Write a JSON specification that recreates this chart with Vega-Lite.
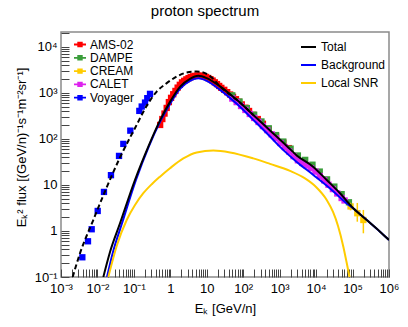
{
  "$schema": "https://vega.github.io/schema/vega-lite/v6.json",
  "width": 328,
  "height": 245,
  "autosize": {"type": "none"},
  "padding": {"left": 61, "top": 32, "right": 19, "bottom": 50},
  "title": {"text": "proton spectrum", "font": "Liberation Sans", "fontSize": 15, "fontWeight": "normal", "color": "black", "anchor": "middle", "baseline": "alphabetic", "offset": 6, "dx": -20, "dy": 10},
  "config": {
    "font": "Liberation Sans",
    "view": {"stroke": "#8a8a8a", "strokeWidth": 1.5},
    "axis": {"grid": false, "domain": false, "tickColor": "#444", "tickWidth": 1, "labelColor": "black", "titleColor": "black", "labelFont": "Liberation Sans", "titleFont": "Liberation Sans", "labelFontSize": 13, "titleFontSize": 13, "titleFontWeight": "normal", "labelOverlap": false, "labelFlush": false},
    "legend": {"labelFont": "Liberation Sans", "labelFontSize": 12, "labelColor": "black"}
  },
  "datasets": {
    "points": [
      {"exp": "Voyager", "E": 0.00385, "F": 0.268},
      {"exp": "Voyager", "E": 0.0055, "F": 0.597},
      {"exp": "Voyager", "E": 0.00695, "F": 1.09},
      {"exp": "Voyager", "E": 0.01016, "F": 2.72},
      {"exp": "Voyager", "E": 0.0151, "F": 7.05},
      {"exp": "Voyager", "E": 0.0235, "F": 16.3},
      {"exp": "Voyager", "E": 0.0391, "F": 42.7},
      {"exp": "Voyager", "E": 0.0513, "F": 77.9},
      {"exp": "Voyager", "E": 0.0798, "F": 151},
      {"exp": "Voyager", "E": 0.141, "F": 406},
      {"exp": "Voyager", "E": 0.164, "F": 505},
      {"exp": "Voyager", "E": 0.202, "F": 615},
      {"exp": "Voyager", "E": 0.233, "F": 767},
      {"exp": "Voyager", "E": 0.277, "F": 951},
      {"exp": "AMS-02", "E": 0.525, "F": 201},
      {"exp": "AMS-02", "E": 0.603, "F": 270},
      {"exp": "AMS-02", "E": 0.692, "F": 355},
      {"exp": "AMS-02", "E": 0.794, "F": 471},
      {"exp": "AMS-02", "E": 0.912, "F": 630},
      {"exp": "AMS-02", "E": 1.047, "F": 780},
      {"exp": "AMS-02", "E": 1.202, "F": 933},
      {"exp": "AMS-02", "E": 1.38, "F": 1102},
      {"exp": "AMS-02", "E": 1.585, "F": 1300},
      {"exp": "AMS-02", "E": 1.82, "F": 1496},
      {"exp": "AMS-02", "E": 2.09, "F": 1690},
      {"exp": "AMS-02", "E": 2.4, "F": 1824},
      {"exp": "AMS-02", "E": 2.754, "F": 1963},
      {"exp": "AMS-02", "E": 3.16, "F": 2084},
      {"exp": "AMS-02", "E": 3.63, "F": 2203},
      {"exp": "AMS-02", "E": 4.17, "F": 2286},
      {"exp": "AMS-02", "E": 4.79, "F": 2339},
      {"exp": "AMS-02", "E": 5.5, "F": 2371},
      {"exp": "AMS-02", "E": 6.31, "F": 2360},
      {"exp": "AMS-02", "E": 7.24, "F": 2344},
      {"exp": "AMS-02", "E": 8.32, "F": 2275},
      {"exp": "AMS-02", "E": 9.55, "F": 2213},
      {"exp": "AMS-02", "E": 10.96, "F": 2104},
      {"exp": "AMS-02", "E": 12.6, "F": 1986},
      {"exp": "AMS-02", "E": 14.45, "F": 1849},
      {"exp": "AMS-02", "E": 16.6, "F": 1694},
      {"exp": "AMS-02", "E": 19.05, "F": 1552},
      {"exp": "AMS-02", "E": 21.9, "F": 1413},
      {"exp": "AMS-02", "E": 25.1, "F": 1285},
      {"exp": "AMS-02", "E": 30.2, "F": 1164},
      {"exp": "AMS-02", "E": 36.3, "F": 1035},
      {"exp": "AMS-02", "E": 43.7, "F": 920},
      {"exp": "AMS-02", "E": 52.5, "F": 818},
      {"exp": "AMS-02", "E": 63.1, "F": 728},
      {"exp": "AMS-02", "E": 75.9, "F": 640},
      {"exp": "AMS-02", "E": 91.2, "F": 561},
      {"exp": "AMS-02", "E": 114.8, "F": 475},
      {"exp": "AMS-02", "E": 144.5, "F": 404},
      {"exp": "AMS-02", "E": 190.5, "F": 333},
      {"exp": "AMS-02", "E": 251, "F": 270},
      {"exp": "AMS-02", "E": 347, "F": 213},
      {"exp": "AMS-02", "E": 501, "F": 162},
      {"exp": "AMS-02", "E": 794, "F": 116},
      {"exp": "AMS-02", "E": 1259, "F": 82.6},
      {"exp": "AMS-02", "E": 1778, "F": 63.1},
      {"exp": "CREAM", "E": 88100, "F": 3.41},
      {"exp": "CREAM", "E": 135000, "F": 2.43},
      {"exp": "CREAM", "E": 198000, "F": 1.73},
      {"exp": "DAMPE", "E": 50.1, "F": 884},
      {"exp": "DAMPE", "E": 79.4, "F": 648},
      {"exp": "DAMPE", "E": 125.9, "F": 467},
      {"exp": "DAMPE", "E": 199.5, "F": 335},
      {"exp": "DAMPE", "E": 316.2, "F": 239},
      {"exp": "DAMPE", "E": 501.2, "F": 170},
      {"exp": "DAMPE", "E": 794.3, "F": 121},
      {"exp": "DAMPE", "E": 1259, "F": 87.5},
      {"exp": "DAMPE", "E": 1995, "F": 61.4},
      {"exp": "DAMPE", "E": 3162, "F": 43.6},
      {"exp": "DAMPE", "E": 5012, "F": 35.0},
      {"exp": "DAMPE", "E": 7943, "F": 27.5},
      {"exp": "DAMPE", "E": 12590, "F": 19.5},
      {"exp": "DAMPE", "E": 19950, "F": 13.2},
      {"exp": "DAMPE", "E": 31620, "F": 9.2},
      {"exp": "DAMPE", "E": 50120, "F": 6.31},
      {"exp": "DAMPE", "E": 79430, "F": 4.2},
      {"exp": "CALET", "E": 50.1, "F": 752},
      {"exp": "CALET", "E": 66.1, "F": 630},
      {"exp": "CALET", "E": 87.1, "F": 518},
      {"exp": "CALET", "E": 114.8, "F": 425},
      {"exp": "CALET", "E": 151.4, "F": 348},
      {"exp": "CALET", "E": 199.5, "F": 285},
      {"exp": "CALET", "E": 263, "F": 233},
      {"exp": "CALET", "E": 346.7, "F": 190},
      {"exp": "CALET", "E": 457.1, "F": 155},
      {"exp": "CALET", "E": 602.6, "F": 126},
      {"exp": "CALET", "E": 794.3, "F": 103},
      {"exp": "CALET", "E": 1047, "F": 81.5},
      {"exp": "CALET", "E": 1380, "F": 66.5},
      {"exp": "CALET", "E": 1820, "F": 53.3},
      {"exp": "CALET", "E": 2399, "F": 42.2},
      {"exp": "CALET", "E": 3162, "F": 34.3},
      {"exp": "CALET", "E": 4169, "F": 30.1},
      {"exp": "CALET", "E": 5495, "F": 26.4},
      {"exp": "CALET", "E": 7244, "F": 23.1},
      {"exp": "CALET", "E": 9550, "F": 19.5},
      {"exp": "CALET", "E": 12590, "F": 15.6},
      {"exp": "CALET", "E": 16600, "F": 12.6},
      {"exp": "CALET", "E": 21880, "F": 10.1},
      {"exp": "CALET", "E": 28840, "F": 8.13},
      {"exp": "CALET", "E": 38020, "F": 6.53},
      {"exp": "CALET", "E": 50120, "F": 5.2},
      {"exp": "CALET", "E": 60260, "F": 4.6}
    ],
    "cream": [
      {"E": 88100, "F": 3.41, "Elo": 80000, "Ehi": 97000, "Flo": 2.8, "Fhi": 4.1},
      {"E": 135000, "F": 2.43, "Elo": 121000, "Ehi": 151000, "Flo": 1.59, "Fhi": 4.06},
      {"E": 198000, "F": 1.73, "Elo": 177000, "Ehi": 222000, "Flo": 0.89, "Fhi": 2.86}
    ],
    "lis": [
      {"E": 0.00209, "F": 0.1},
      {"E": 0.00332, "F": 0.327},
      {"E": 0.00769, "F": 1.73},
      {"E": 0.0179, "F": 8.83},
      {"E": 0.0416, "F": 39.6},
      {"E": 0.107, "F": 171},
      {"E": 0.233, "F": 548},
      {"E": 0.423, "F": 1067},
      {"E": 0.796, "F": 1625},
      {"E": 1.5, "F": 2259},
      {"E": 2.82, "F": 2761},
      {"E": 5.3, "F": 2904},
      {"E": 8.95, "F": 2679},
      {"E": 13.9, "F": 2120},
      {"E": 23.1, "F": 1384},
      {"E": 66.4, "F": 705},
      {"E": 189, "F": 332}
    ],
    "curves": [
      {"model": "Total", "E": 0.0145, "F": 0.1},
      {"model": "Total", "E": 0.02212, "F": 0.3497},
      {"model": "Total", "E": 0.0416, "F": 1.47},
      {"model": "Total", "E": 0.107, "F": 12.8},
      {"model": "Total", "E": 0.249, "F": 68},
      {"model": "Total", "E": 0.521, "F": 252},
      {"model": "Total", "E": 0.98, "F": 637},
      {"model": "Total", "E": 1.84, "F": 1349},
      {"model": "Total", "E": 3.47, "F": 2015},
      {"model": "Total", "E": 5.86, "F": 2344},
      {"model": "Total", "E": 9.96, "F": 2089},
      {"model": "Total", "E": 23.1, "F": 1384},
      {"model": "Total", "E": 66.4, "F": 705},
      {"model": "Total", "E": 189, "F": 332},
      {"model": "Total", "E": 543, "F": 153},
      {"model": "Total", "E": 1563, "F": 70.4},
      {"model": "Total", "E": 2939, "F": 43.8},
      {"model": "Total", "E": 8395, "F": 24.6},
      {"model": "Total", "E": 19550, "F": 12.8},
      {"model": "Total", "E": 45300, "F": 6.6},
      {"model": "Total", "E": 105000, "F": 3.11},
      {"model": "Total", "E": 245000, "F": 1.73},
      {"model": "Total", "E": 568000, "F": 0.966},
      {"model": "Total", "E": 1000000, "F": 0.637},
      {"model": "Background", "E": 0.0183, "F": 0.1},
      {"model": "Background", "E": 0.02674, "F": 0.3497},
      {"model": "Background", "E": 0.0472, "F": 1.47},
      {"model": "Background", "E": 0.114, "F": 12.8},
      {"model": "Background", "E": 0.256, "F": 68},
      {"model": "Background", "E": 0.521, "F": 234},
      {"model": "Background", "E": 0.98, "F": 577},
      {"model": "Background", "E": 1.84, "F": 1222},
      {"model": "Background", "E": 3.47, "F": 1824},
      {"model": "Background", "E": 5.86, "F": 2066},
      {"model": "Background", "E": 9.96, "F": 1824},
      {"model": "Background", "E": 23.1, "F": 1162},
      {"model": "Background", "E": 66.4, "F": 577},
      {"model": "Background", "E": 189, "F": 259},
      {"model": "Background", "E": 543, "F": 113},
      {"model": "Background", "E": 1023, "F": 67},
      {"model": "Background", "E": 2939, "F": 31.6},
      {"model": "Background", "E": 8395, "F": 16.5},
      {"model": "Background", "E": 24100, "F": 8.39},
      {"model": "Background", "E": 55800, "F": 4.6},
      {"model": "Background", "E": 105000, "F": 3.08},
      {"model": "Background", "E": 245000, "F": 1.73},
      {"model": "Background", "E": 568000, "F": 0.966},
      {"model": "Background", "E": 1000000, "F": 0.637},
      {"model": "Local SNR", "E": 0.01986, "F": 0.1},
      {"model": "Local SNR", "E": 0.0344, "F": 0.496},
      {"model": "Local SNR", "E": 0.0635, "F": 1.734},
      {"model": "Local SNR", "E": 0.1073, "F": 3.674},
      {"model": "Local SNR", "E": 0.1813, "F": 6.6},
      {"model": "Local SNR", "E": 0.3143, "F": 10.51},
      {"model": "Local SNR", "E": 0.5209, "F": 15.15},
      {"model": "Local SNR", "E": 0.9799, "F": 23.07},
      {"model": "Local SNR", "E": 2.271, "F": 37.68},
      {"model": "Local SNR", "E": 5.296, "F": 50.86},
      {"model": "Local SNR", "E": 15.12, "F": 55.68},
      {"model": "Local SNR", "E": 43.43, "F": 50.86},
      {"model": "Local SNR", "E": 189.3, "F": 37.68},
      {"model": "Local SNR", "E": 543.8, "F": 28.61},
      {"model": "Local SNR", "E": 1924, "F": 20.15},
      {"model": "Local SNR", "E": 4964, "F": 13.85},
      {"model": "Local SNR", "E": 9949, "F": 9.04},
      {"model": "Local SNR", "E": 19560, "F": 4.72},
      {"model": "Local SNR", "E": 29130, "F": 2.588},
      {"model": "Local SNR", "E": 39950, "F": 1.284},
      {"model": "Local SNR", "E": 55850, "F": 0.4558},
      {"model": "Local SNR", "E": 68350, "F": 0.2119},
      {"model": "Local SNR", "E": 82630, "F": 0.1}
    ]
  },
  "layer": [
    {
      "data": {"name": "points"},
      "mark": {"type": "square", "size": 40, "opacity": 1, "clip": true},
      "encoding": {
        "x": {
          "field": "E", "type": "quantitative",
          "scale": {"type": "log", "domain": [0.001, 1000000], "nice": false},
          "axis": {
            "title": "Eₖ [GeV/n]",
            "titleX": 164, "titleY": 31, "titleAlign": "center", "titleBaseline": "middle",
            "tickSize": -8, "labelPadding": 13, "labelBaseline": "top",
            "values": [0.001,0.002,0.003,0.004,0.005,0.006,0.007,0.008,0.009,0.01,0.02,0.03,0.04,0.05,0.06,0.07,0.08,0.09,0.1,0.2,0.3,0.4,0.5,0.6,0.7,0.8,0.9,1,2,3,4,5,6,7,8,9,10,20,30,40,50,60,70,80,90,100,200,300,400,500,600,700,800,900,1000,2000,3000,4000,5000,6000,7000,8000,9000,10000,20000,30000,40000,50000,60000,70000,80000,90000,100000,200000,300000,400000,500000,600000,700000,800000,900000,1000000],
            "labelExpr": "abs(log(datum.value)/LN10 - round(log(datum.value)/LN10)) > 0.01 ? '' : (round(log(datum.value)/LN10) == -3 ? '10⁻³' : round(log(datum.value)/LN10) == -2 ? '10⁻²' : round(log(datum.value)/LN10) == -1 ? '10⁻¹' : round(log(datum.value)/LN10) == 0 ? '1' : round(log(datum.value)/LN10) == 1 ? '10' : '10' + ['⁰','¹','²','³','⁴','⁵','⁶'][round(log(datum.value)/LN10)])",
            "encode": {"ticks": {"update": {"y2": {"signal": "abs(log(datum.value)/LN10 - round(log(datum.value)/LN10)) < 0.01 ? -8 : -4"}}}}
          }
        },
        "y": {
          "field": "F", "type": "quantitative",
          "scale": {"type": "log", "domain": [0.1, 21000], "nice": false},
          "axis": {
            "title": "Eₖ² flux [(GeV/n)⁻¹s⁻¹m⁻²sr⁻¹]",
            "titleX": -40, "titleY": 115, "titleAngle": -90, "titleAlign": "center", "titleBaseline": "middle",
            "tickSize": -8, "labelPadding": 12,
            "values": [0.1,0.2,0.3,0.4,0.5,0.6,0.7,0.8,0.9,1,2,3,4,5,6,7,8,9,10,20,30,40,50,60,70,80,90,100,200,300,400,500,600,700,800,900,1000,2000,3000,4000,5000,6000,7000,8000,9000,10000,20000],
            "labelExpr": "abs(log(datum.value)/LN10 - round(log(datum.value)/LN10)) > 0.01 ? '' : (round(log(datum.value)/LN10) == -1 ? '10⁻¹' : round(log(datum.value)/LN10) == 0 ? '1' : round(log(datum.value)/LN10) == 1 ? '10' : '10' + ['⁰','¹','²','³','⁴','⁵','⁶'][round(log(datum.value)/LN10)])",
            "encode": {"ticks": {"update": {"x2": {"signal": "abs(log(datum.value)/LN10 - round(log(datum.value)/LN10)) < 0.01 ? 8 : 4"}}}}
          }
        },
        "color": {
          "field": "exp", "type": "nominal",
          "scale": {"domain": ["AMS-02", "DAMPE", "CREAM", "CALET", "Voyager"], "range": ["#ff0000", "#3a9d3a", "#ffcc00", "#dd22ee", "#0000ff"]},
          "legend": {"orient": "none", "direction": "vertical", "legendX": 13, "legendY": 6.5, "title": null, "padding": 0, "symbolType": "M-1,-0.15H1V0.15H-1Z M-0.45,-0.45H0.45V0.45H-0.45Z", "symbolSize": 144, "symbolStrokeWidth": 0, "labelOffset": 4, "rowPadding": 1.3}
        }
      }
    },
    {
      "data": {"name": "cream"},
      "mark": {"type": "rule", "color": "#ffcc00", "strokeWidth": 1.5, "clip": true},
      "encoding": {
        "x": {"field": "E", "type": "quantitative"},
        "y": {"field": "Flo", "type": "quantitative"},
        "y2": {"field": "Fhi"}
      }
    },
    {
      "data": {"name": "cream"},
      "mark": {"type": "rule", "color": "#ffcc00", "strokeWidth": 1.5, "clip": true},
      "encoding": {
        "x": {"field": "Elo", "type": "quantitative"},
        "x2": {"field": "Ehi"},
        "y": {"field": "F", "type": "quantitative"}
      }
    },
    {
      "data": {"name": "lis"},
      "mark": {"type": "line", "color": "black", "strokeWidth": 2, "strokeDash": [5, 3], "interpolate": "monotone", "clip": true},
      "encoding": {
        "x": {"field": "E", "type": "quantitative"},
        "y": {"field": "F", "type": "quantitative"}
      }
    },
    {
      "data": {"name": "curves"},
      "transform": [{"filter": "datum.model != 'Total'"}],
      "mark": {"type": "line", "strokeWidth": 2, "interpolate": "monotone", "clip": true},
      "encoding": {
        "x": {"field": "E", "type": "quantitative"},
        "y": {"field": "F", "type": "quantitative"},
        "stroke": {
          "field": "model", "type": "nominal",
          "scale": {"domain": ["Total", "Background", "Local SNR"], "range": ["#000000", "#0000ff", "#ffcc00"]},
          "legend": {"orient": "none", "direction": "vertical", "legendX": 239, "legendY": 6.5, "title": null, "padding": 0, "symbolType": "stroke", "symbolSize": 225, "symbolStrokeWidth": 2, "labelOffset": 4, "rowPadding": 3}
        }
      }
    },
    {
      "data": {"name": "curves"},
      "transform": [{"filter": "datum.model == 'Total'"}],
      "mark": {"type": "line", "strokeWidth": 2, "interpolate": "monotone", "clip": true},
      "encoding": {
        "x": {"field": "E", "type": "quantitative"},
        "y": {"field": "F", "type": "quantitative"},
        "stroke": {"field": "model", "type": "nominal"}
      }
    }
  ]
}
